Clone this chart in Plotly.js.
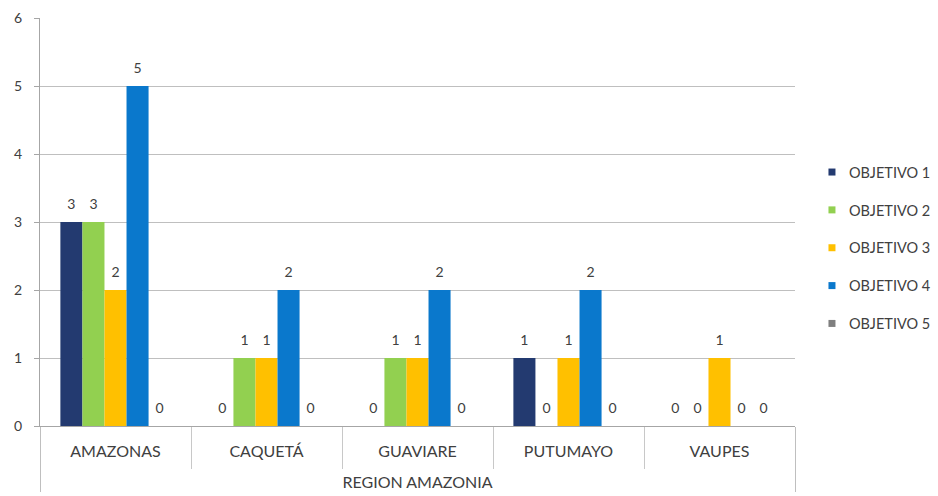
<!DOCTYPE html>
<html>
<head>
<meta charset="utf-8">
<script src="https://cdn.plot.ly/plotly-3.0.1.min.js"></script>
<style>html,body{margin:0;padding:0;background:#fff;}#chart{width:938px;height:496px;}</style>
</head>
<body>
<div id="chart"></div>
<script>
const regionLabel = "<br>REGION AMAZONIA";
const departamentos = ["AMAZONAS", "CAQUETÁ", "GUAVIARE", "PUTUMAYO", "VAUPES"];
const seriesNames = ["OBJETIVO 1", "OBJETIVO 2", "OBJETIVO 3", "OBJETIVO 4", "OBJETIVO 5"];
const objetivo1 = [3, 0, 0, 1, 0];
const objetivo2 = [3, 1, 1, 0, 0];
const objetivo3 = [2, 1, 1, 1, 1];
const objetivo4 = [5, 2, 2, 2, 0];
const objetivo5 = [0, 0, 0, 0, 0];
const yTicks = [0, 1, 2, 3, 4, 5, 6];

const seriesValues = [objetivo1, objetivo2, objetivo3, objetivo4, objetivo5];
const colors = ["#233a70", "#92d050", "#ffc000", "#0a78cc", "#7f7f7f"];
const xOuter = departamentos.map(() => regionLabel);
const fontFam = "Lato, Open Sans, sans-serif";

const traces = seriesValues.map((vals, i) => ({
  type: "bar",
  name: seriesNames[i],
  legendgroup: "g" + i,
  x: [xOuter, departamentos],
  y: vals,
  marker: {color: colors[i]},
  text: vals.map(String),
  textposition: "outside",
  cliponaxis: false,
  textfont: {family: fontFam, size: 14, color: "#404040"},
  hoverinfo: "none"
}));

const layout = {
  width: 938, height: 496,
  margin: {l: 40, r: 143, t: 18, b: 70, autoexpand: false},
  paper_bgcolor: "#ffffff",
  plot_bgcolor: "#ffffff",
  font: {family: fontFam, size: 14, color: "#404040"},
  barmode: "group",
  bargap: 0.27,
  bargroupgap: 0,
  showlegend: true,
  legend: {
    x: 1.0185, xanchor: "left", y: 0.436, yanchor: "middle",
    traceorder: "grouped", tracegroupgap: 16,
    font: {family: fontFam, size: 14.5, color: "#404040"},
    itemwidth: 30
  },
  xaxis: {
    type: "multicategory",
    automargin: false,
    showline: true, linecolor: "#a6a6a6", linewidth: 1,
    showgrid: false,
    ticks: "outside", tickson: "boundaries", ticklen: 42, tickcolor: "#c8c8c8",
    showdividers: true, dividercolor: "#bfbfbf", dividerwidth: 1,
    ticklabelstandoff: 11,
    tickfont: {family: fontFam, size: 16, color: "#404040"},
    zeroline: false
  },
  yaxis: {
    range: [0, 6],
    automargin: false,
    tickvals: yTicks,
    showline: true, linecolor: "#a6a6a6", linewidth: 1,
    showgrid: true, gridcolor: "#bfbfbf", gridwidth: 1,
    ticks: "outside", ticklen: 5, tickcolor: "#a6a6a6",
    ticklabelstandoff: 9,
    tickfont: {family: fontFam, size: 14, color: "#404040"},
    zeroline: false,
    fixedrange: true
  }
};

Plotly.newPlot("chart", traces, layout, {staticPlot: true, displayModeBar: false}).then(() => {
  document.querySelectorAll("#chart .legend .legendpoints path").forEach(p => {
    p.setAttribute("d", "M3.5,3.5H-3.5V-3.5H3.5Z");
    p.setAttribute("transform", "translate(23,0)");
  });
  document.querySelectorAll("#chart .bars text.bartext").forEach(t => {
    const tr = t.getAttribute("transform") || "";
    t.setAttribute("transform", "translate(0,-7) " + tr);
  });
});
</script>
</body>
</html>
